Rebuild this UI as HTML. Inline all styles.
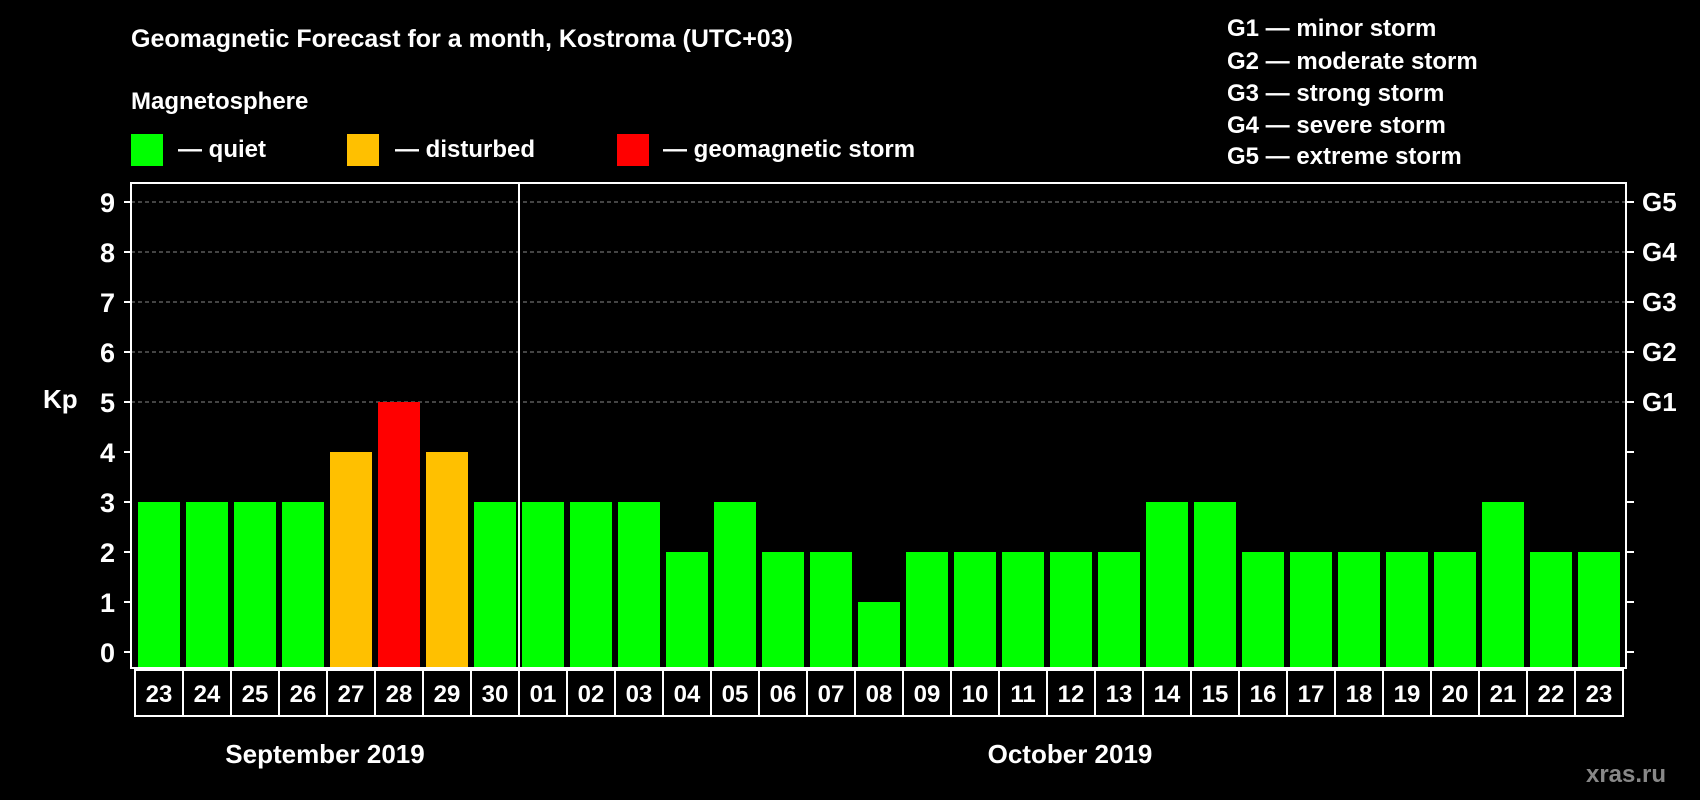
<!DOCTYPE html>
<html><head><meta charset="utf-8"><style>
html,body{margin:0;padding:0;background:#000;}
svg{display:block;font-family:"Liberation Sans",Arial,sans-serif;font-weight:bold;}
</style></head><body>
<svg id="chart" width="1700" height="800" viewBox="0 0 1700 800">
<rect x="0" y="0" width="1700" height="800" fill="#000"/>
<text x="131" y="47" fill="#fff" font-size="25">Geomagnetic Forecast for a month, Kostroma (UTC+03)</text>
<text x="131" y="109" fill="#fff" font-size="24">Magnetosphere</text>
<g><rect x="131" y="134" width="32" height="32" fill="#00ff00"/><text x="178" y="157" fill="#fff" font-size="24">— quiet</text></g>
<g><rect x="347" y="134" width="32" height="32" fill="#ffc000"/><text x="395" y="157" fill="#fff" font-size="24">— disturbed</text></g>
<g><rect x="617" y="134" width="32" height="32" fill="#ff0000"/><text x="663" y="157" fill="#fff" font-size="24">— geomagnetic storm</text></g>
<g fill="#fff" font-size="24">
<text x="1227" y="36">G1 — minor storm</text>
<text x="1227" y="69">G2 — moderate storm</text>
<text x="1227" y="101">G3 — strong storm</text>
<text x="1227" y="133">G4 — severe storm</text>
<text x="1227" y="164">G5 — extreme storm</text>
</g>
<text x="43" y="408" fill="#fff" font-size="26">Kp</text>
<g id="grid"></g><g id="bars"></g><g id="axes"></g><g id="dates"></g>
<text x="325" y="763" fill="#fff" font-size="26" text-anchor="middle">September 2019</text>
<text x="1070" y="763" fill="#fff" font-size="26" text-anchor="middle">October 2019</text>
<text x="1626" y="782" fill="#888" font-size="24" text-anchor="middle">xras.ru</text>
</svg>
<script>
const days = ["23","24","25","26","27","28","29","30","01","02","03","04","05","06","07","08","09","10","11","12","13","14","15","16","17","18","19","20","21","22","23"];
const kpValues = [3,3,3,3,4,5,4,3,3,3,3,2,3,2,2,1,2,2,2,2,2,3,3,2,2,2,2,2,3,2,2];
const yTicks = [0,1,2,3,4,5,6,7,8,9];
const gLabels = ["G1","G2","G3","G4","G5"];
const gLevels = [5,6,7,8,9];
const NS="http://www.w3.org/2000/svg";
const L=131,R=1626,T=183,B=668,Y0=652,UNIT=50,X0=135,PITCH=48;
const y=v=>Y0-v*UNIT;
const xc=i=>X0+PITCH*i+PITCH/2;
function mk(tag,attrs,parent){const e=document.createElementNS(NS,tag);for(const k in attrs)e.setAttribute(k,attrs[k]);parent.appendChild(e);return e;}
const grid=document.getElementById('grid'),bars=document.getElementById('bars'),axes=document.getElementById('axes'),dates=document.getElementById('dates');
gLevels.forEach((v,i)=>{
 const ln=mk('line',{x1:L,x2:R,y1:y(v),y2:y(v),stroke:'#888','stroke-width':1,'stroke-dasharray':'4,3'},grid);
 
 
 const t=mk('text',{x:1642,y:y(v)+9,fill:'#fff','font-size':26},axes);t.textContent=gLabels[i];
 
 
});
kpValues.forEach((v,i)=>{
 const col=v>=5?'#ff0000':(v>=4?'#ffc000':'#00ff00');
 const r=mk('rect',{x:xc(i)-21,width:42,y:y(v),height:B-y(v),fill:col},bars);
 
 
});
mk('rect',{x:L,y:T,width:R-L,height:B-T,fill:'none',stroke:'#fff','stroke-width':2},axes);
const dv=mk('line',{x1:X0+PITCH*8,x2:X0+PITCH*8,y1:T,y2:B,stroke:'#fff','stroke-width':2},axes);


yTicks.forEach(v=>{
 mk('line',{x1:L-7,x2:L,y1:y(v),y2:y(v),stroke:'#fff','stroke-width':2},axes);
 mk('line',{x1:R,x2:R+8,y1:y(v),y2:y(v),stroke:'#fff','stroke-width':2},axes);
 const t=mk('text',{x:115,y:y(v)+10,fill:'#fff','font-size':27,'text-anchor':'end'},axes);t.textContent=v;
 
 
});
days.forEach((d,i)=>{
 const c=mk('rect',{x:X0+PITCH*i,y:670,width:PITCH,height:46,fill:'#000',stroke:'#fff','stroke-width':2},dates);
 
 
 const t=mk('text',{x:xc(i),y:702,fill:'#fff','font-size':24,'text-anchor':'middle'},dates);t.textContent=d;
 
 
});
</script>
</body></html>
